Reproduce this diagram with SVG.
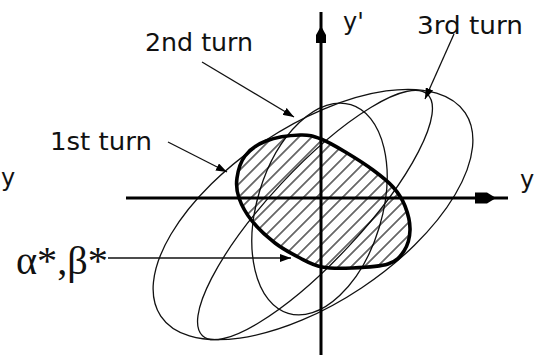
<svg xmlns="http://www.w3.org/2000/svg" width="537" height="355" viewBox="0 0 537 355">
  <style>
    .thin { fill: none; stroke: #111; stroke-width: 1.3; }
    .bold { fill: url(#hatch); stroke: #000; stroke-width: 3.6; }
    .axis { stroke: #000; stroke-width: 3; fill: none; }
    .head { fill: #000; stroke: none; }
    .lead { fill: none; stroke: #111; stroke-width: 1.3; marker-end: url(#ah); }
    .lbl { font-family: "DejaVu Sans", "Liberation Sans", sans-serif; font-size: 24px; fill: #111; }
    .greek { font-family: "Liberation Serif", "DejaVu Serif", serif; font-size: 40px; fill: #111; }
  </style>
  <defs>
    <pattern id="hatch" width="9.2" height="9.2" patternUnits="userSpaceOnUse" patternTransform="rotate(45)">
      <line x1="4.6" y1="0" x2="4.6" y2="9.2" stroke="#000" stroke-width="1.1"/>
    </pattern>
    <marker id="ah" markerWidth="12" markerHeight="8" refX="11" refY="4" orient="auto" markerUnits="userSpaceOnUse">
      <path d="M0,0 L11,4 L0,8 z" fill="#000"/>
    </marker>
  </defs>

  <rect width="537" height="355" fill="#fff"/>

  <g id="turn2-ellipse">
    <ellipse class="thin" cx="313" cy="214.5" rx="183" ry="88" transform="rotate(-33.7 313 214.5)"/>
  </g>
  <g id="turn3-ellipse">
    <ellipse class="thin" cx="315" cy="215" rx="165" ry="46" transform="rotate(-47 315 215)"/>
  </g>
  <g id="turn1-ellipse">
    <ellipse class="thin" cx="319.5" cy="209" rx="109" ry="62.5" transform="rotate(-73.3 319.5 209)"/>
  </g>

  <g id="alpha-beta-region">
    <path class="bold" d="M300,135 C309.2,134.7 313.2,136 321,139 C328.8,142 338.3,147.8 347,153 C355.7,158.2 365.3,164.3 373,170 C380.7,175.7 387.7,181 393,187 C398.3,193 402.2,198.8 405,206 C407.8,213.2 410.2,222.5 410,230 C409.8,237.5 407.7,245.3 404,251 C400.3,256.7 396.7,261.2 388,264 C379.3,266.8 363,267.5 352,268 C341,268.5 330.7,268.7 322,267 C313.3,265.3 307.8,262 300,258 C292.2,254 283,249.2 275,243 C267,236.8 258,228.5 252,221 C246,213.5 241.5,205.2 239,198 C236.5,190.8 236,185 237,178 C238,171 240.2,162.2 245,156 C249.8,149.8 256.8,144.5 266,141 C275.2,137.5 290.8,135.3 300,135 Z"/>
  </g>

  <g id="axes">
    <line class="axis" x1="126" y1="198" x2="508" y2="198"/>
    <path class="head" d="M475,192.5 L487,192.5 L496,198 L487,203.5 L475,203.5 Z"/>
    <line class="axis" x1="321" y1="12" x2="321" y2="355"/>
    <path class="head" d="M321,26 L326,35 L326,43 L316,43 L316,35 Z"/>
  </g>

  <g id="connectors">
    <line class="lead" x1="202" y1="62" x2="294" y2="117"/>
    <line class="lead" x1="168" y1="142" x2="227" y2="172"/>
    <line class="lead" x1="454" y1="34" x2="425" y2="99"/>
    <line class="lead" x1="108" y1="258" x2="291" y2="258"/>
  </g>

  <g id="label-2nd"><text class="lbl" x="145" y="50.5" textLength="108" lengthAdjust="spacingAndGlyphs">2nd turn</text></g>
  <g id="label-1st"><text class="lbl" x="50" y="149.5" textLength="102" lengthAdjust="spacingAndGlyphs">1st turn</text></g>
  <g id="label-3rd"><text class="lbl" x="417" y="33.5" textLength="106" lengthAdjust="spacingAndGlyphs">3rd turn</text></g>
  <g id="label-yprime"><text class="lbl" x="343" y="30">y'</text></g>
  <g id="label-y-left"><text class="lbl" x="1" y="186">y</text></g>
  <g id="label-y-right"><text class="lbl" x="520" y="188">y</text></g>
  <g id="label-alpha-beta"><text class="greek" x="16" y="274" textLength="92" lengthAdjust="spacingAndGlyphs">α*,β*</text></g>
</svg>
